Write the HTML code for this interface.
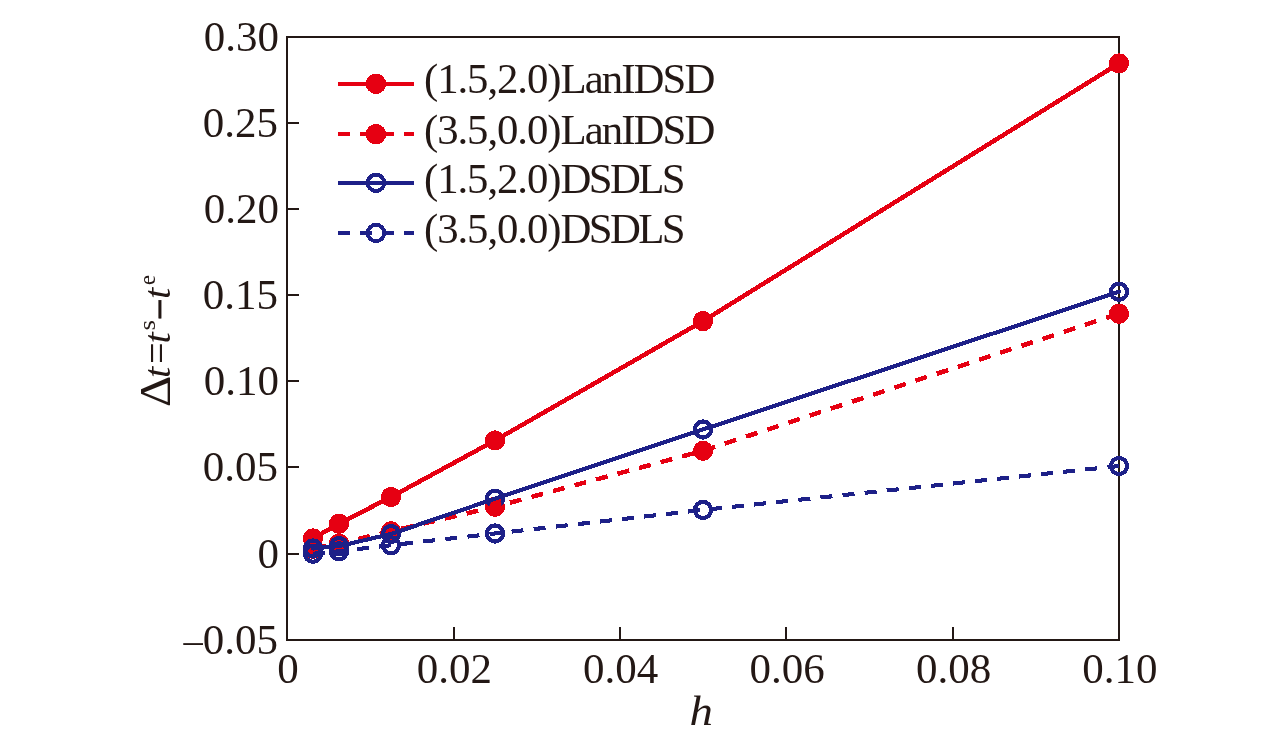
<!DOCTYPE html>
<html lang="en"><head><meta charset="utf-8"><title>chart</title>
<style>
html,body{margin:0;padding:0;background:#fff;}
body{width:1276px;height:739px;overflow:hidden;}
svg{display:block;}
text{font-family:"Liberation Serif","Times New Roman",serif;fill:#231815;}
.tk{font-size:43px;}
.lg{font-size:42.8px;letter-spacing:-1.45px;}
.it{font-style:italic;}
</style></head><body>
<svg width="1276" height="739" viewBox="0 0 1276 739" shape-rendering="crispEdges">
<rect x="0" y="0" width="1276" height="739" fill="#fff"/>

<rect x="287.0" y="37.0" width="832.0" height="603.0" fill="none" stroke="#231815" stroke-width="2"/>
<path d="M453 627h2v12h-2z M619 627h2v12h-2z M785 627h2v12h-2z M952 627h2v12h-2z M288 553h11v2h-11z M288 466h11v2h-11z M288 380h11v2h-11z M288 294h11v2h-11z M288 208h11v2h-11z M288 122h11v2h-11z" fill="#231815" stroke="none"/>
<text class="tk" x="287.9" y="683.2" text-anchor="middle">0</text>
<text class="tk" x="454.3" y="683.2" text-anchor="middle">0.02</text>
<text class="tk" x="620.7" y="683.2" text-anchor="middle">0.04</text>
<text class="tk" x="787.1" y="683.2" text-anchor="middle">0.06</text>
<text class="tk" x="953.5" y="683.2" text-anchor="middle">0.08</text>
<text class="tk" x="1119.9" y="683.2" text-anchor="middle">0.10</text>
<text class="tk" x="278" y="654.2" text-anchor="end"><tspan font-size="38.5" dy="-1.2">–</tspan><tspan dy="1.2">0.05</tspan></text>
<text class="tk" x="279" y="568.2" text-anchor="end">0</text>
<text class="tk" x="278" y="481.2" text-anchor="end">0.05</text>
<text class="tk" x="279" y="395.2" text-anchor="end">0.10</text>
<text class="tk" x="278" y="309.2" text-anchor="end">0.15</text>
<text class="tk" x="279" y="223.2" text-anchor="end">0.20</text>
<text class="tk" x="278" y="137.2" text-anchor="end">0.25</text>
<text class="tk" x="279" y="51.2" text-anchor="end">0.30</text>
<text class="tk it" transform="translate(701.2,725) scale(1.09,0.97)" text-anchor="middle">h</text>
<g transform="translate(170.2,405.6) rotate(-90)">
<text font-size="45" transform="translate(-1.5 0) scale(1.08 1.0)">Δ</text>
<text class="it" font-size="42.5" transform="translate(27.5 0) scale(0.95 0.88)">t</text>
<text font-size="42.5" transform="translate(41.7 0) scale(0.9 1.0)">=</text>
<text class="it" font-size="42.5" transform="translate(62.1 0) scale(0.95 0.88)">t</text>
<text font-size="22.5" transform="translate(75.0 -15.1) scale(1.2 1)">s</text>
<text stroke="#231815" stroke-width="0.9" font-size="42.5" transform="translate(87.6 0) scale(0.82 1)">–</text>
<text class="it" font-size="42.5" transform="translate(106.5 0) scale(0.95 0.88)">t</text>
<text font-size="22.5" transform="translate(120.6 -15.1) scale(1.0 1)">e</text>
</g>
<polyline points="313.0,538.4 339.0,523.7 391.0,497.0 495.0,440.5 703.0,321.1 1119.0,63.4" fill="none" stroke="#e60012" stroke-width="4.5" stroke-linejoin="round" stroke-linecap="round"/>
<circle cx="313.0" cy="538.4" r="10.1" fill="#e60012"/>
<circle cx="339.0" cy="523.7" r="10.1" fill="#e60012"/>
<circle cx="391.0" cy="497.0" r="10.1" fill="#e60012"/>
<circle cx="495.0" cy="440.5" r="10.1" fill="#e60012"/>
<circle cx="703.0" cy="321.1" r="10.1" fill="#e60012"/>
<circle cx="1119.0" cy="63.4" r="10.1" fill="#e60012"/>
<polyline points="313.0,548.7 339.0,543.5 391.0,531.3 495.0,506.7 703.0,450.8 1119.0,313.7" fill="none" stroke="#e60012" stroke-width="4.5" stroke-linejoin="round" stroke-linecap="butt" stroke-dasharray="12 10.3" stroke-dashoffset="-1.5"/>
<circle cx="313.0" cy="548.7" r="10.1" fill="#e60012"/>
<circle cx="339.0" cy="543.5" r="10.1" fill="#e60012"/>
<circle cx="391.0" cy="531.3" r="10.1" fill="#e60012"/>
<circle cx="495.0" cy="506.7" r="10.1" fill="#e60012"/>
<circle cx="703.0" cy="450.8" r="10.1" fill="#e60012"/>
<circle cx="1119.0" cy="313.7" r="10.1" fill="#e60012"/>
<polyline points="313.0,548.5 339.0,546.1 391.0,534.0 495.0,498.7 703.0,429.5 1119.0,291.8" fill="none" stroke="#1d2088" stroke-width="4.1" stroke-linejoin="round" stroke-linecap="round"/>
<circle cx="313.0" cy="548.5" r="8.05" fill="none" stroke="#1d2088" stroke-width="4.2"/>
<circle cx="339.0" cy="546.1" r="8.05" fill="none" stroke="#1d2088" stroke-width="4.2"/>
<circle cx="391.0" cy="534.0" r="8.05" fill="none" stroke="#1d2088" stroke-width="4.2"/>
<circle cx="495.0" cy="498.7" r="8.05" fill="none" stroke="#1d2088" stroke-width="4.2"/>
<circle cx="703.0" cy="429.5" r="8.05" fill="none" stroke="#1d2088" stroke-width="4.2"/>
<circle cx="1119.0" cy="291.8" r="8.05" fill="none" stroke="#1d2088" stroke-width="4.2"/>
<polyline points="313.0,553.8 339.0,551.3 391.0,545.2 495.0,533.5 703.0,509.9 1119.0,466.0" fill="none" stroke="#1d2088" stroke-width="4.1" stroke-linejoin="round" stroke-linecap="butt" stroke-dasharray="12 10.2" stroke-dashoffset="0"/>
<circle cx="313.0" cy="553.8" r="8.05" fill="none" stroke="#1d2088" stroke-width="4.2"/>
<circle cx="339.0" cy="551.3" r="8.05" fill="none" stroke="#1d2088" stroke-width="4.2"/>
<circle cx="391.0" cy="545.2" r="8.05" fill="none" stroke="#1d2088" stroke-width="4.2"/>
<circle cx="495.0" cy="533.5" r="8.05" fill="none" stroke="#1d2088" stroke-width="4.2"/>
<circle cx="703.0" cy="509.9" r="8.05" fill="none" stroke="#1d2088" stroke-width="4.2"/>
<circle cx="1119.0" cy="466.0" r="8.05" fill="none" stroke="#1d2088" stroke-width="4.2"/>
<clipPath id="zf"><polygon points="484,506.3 489.2,506.3 490.5,503.2 500,499.7 501.2,503 501.5,507.7 505.5,507.7 506,520 484,520"/></clipPath>
<circle cx="495.0" cy="506.7" r="10.1" fill="#e60012" clip-path="url(#zf)"/>
<line x1="338" y1="83.8" x2="414" y2="83.8" stroke="#e60012" stroke-width="4.4"/>
<circle cx="376" cy="83.8" r="10.2" fill="#e60012"/>
<text class="lg" x="424" y="93.0"><tspan style="letter-spacing:-1.09px">(1.5,2.0)</tspan><tspan style="letter-spacing:-1.9px">LanIDSD</tspan></text>
<line x1="338" y1="134.2" x2="414" y2="134.2" stroke="#e60012" stroke-width="4.4" stroke-dasharray="12 10"/>
<circle cx="376" cy="134.2" r="10.2" fill="#e60012"/>
<text class="lg" x="424" y="143.8"><tspan style="letter-spacing:-1.09px">(3.5,0.0)</tspan><tspan style="letter-spacing:-1.9px">LanIDSD</tspan></text>
<line x1="338" y1="182.8" x2="414" y2="182.8" stroke="#1d2088" stroke-width="4.4"/>
<circle cx="376" cy="182.8" r="8.2" fill="none" stroke="#1d2088" stroke-width="4"/>
<text class="lg" x="424" y="192.6"><tspan style="letter-spacing:-1.09px">(1.5,2.0)</tspan><tspan style="letter-spacing:-2.6px">DSDLS</tspan></text>
<line x1="338" y1="232.9" x2="414" y2="232.9" stroke="#1d2088" stroke-width="4.4" stroke-dasharray="12 10"/>
<circle cx="376" cy="232.9" r="8.2" fill="none" stroke="#1d2088" stroke-width="4"/>
<text class="lg" x="424" y="243.1"><tspan style="letter-spacing:-1.09px">(3.5,0.0)</tspan><tspan style="letter-spacing:-2.6px">DSDLS</tspan></text>
</svg></body></html>
